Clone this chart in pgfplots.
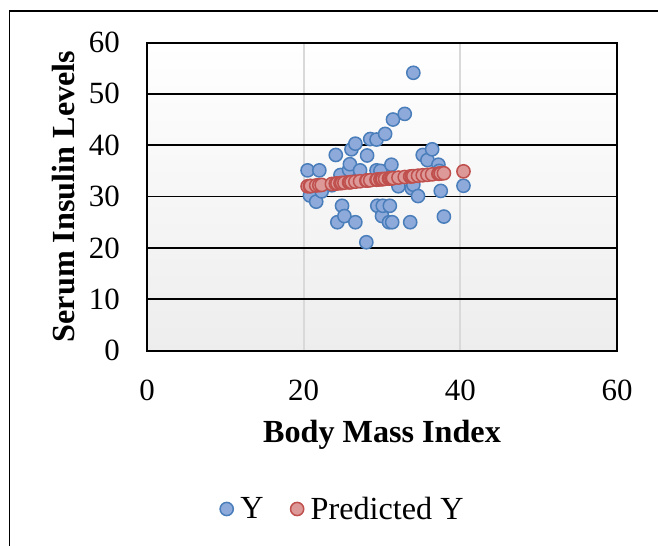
\documentclass[border=0pt]{standalone}
\usepackage{pgfplots}
\pgfplotsset{compat=1.18}
\usepackage{fontspec}
\setmainfont{Liberation Serif}
\definecolor{bluefill}{RGB}{142,170,218}
\definecolor{blueedge}{RGB}{74,126,187}
\definecolor{redfill}{RGB}{220,153,151}
\definecolor{rededge}{RGB}{192,80,77}
\pgfplotsset{mylegimg/.style={legend image code/.code={\path[##1] plot coordinates {(0bp,0bp)};}}}
\begin{document}
\begin{tikzpicture}
\useasboundingbox (0,0) rectangle (658bp,546bp);
\draw[line width=1.4bp, black] (9.3bp,0bp) -- (9.3bp,535bp) -- (658bp,535bp);
\begin{axis}[
  at={(147bp,195.4bp)}, anchor=south west,
  scale only axis, width=470bp, height=308.1bp,
  xmin=0, xmax=60, ymin=0, ymax=60,
  xtick={0,20,40,60}, ytick={0,10,20,30,40,50,60},
  major tick length=0pt,
  grid=major,
  x grid style={draw=black!15, line width=2bp},
  y grid style={draw=black, line width=1.8bp},
  axis line style={line width=2bp},
  axis background/.style={top color=white, bottom color=black!7},
  /pgf/number format/assume math mode=true,
  tick label style={font=\fontsize{31}{36}\selectfont, inner sep=0pt},
  yticklabel style={xshift=-27bp},
  xticklabel style={yshift=-29bp},
  xlabel={Body Mass Index},
  ylabel={Serum Insulin Levels},
  label style={font=\fontsize{32.3}{38}\selectfont\bfseries, inner sep=0pt},
  xlabel style={at={(axis description cs:0.5,-0.2967)}, anchor=base},
  ylabel style={at={(axis description cs:-0.1532,0.5)}, anchor=base},
  legend style={at={(axis description cs:0.1551,-0.5141)}, anchor=west,
    legend columns=-1, draw=none, fill=none, inner xsep=0pt, inner ysep=0pt,
    font=\fontsize{32.3}{38}\selectfont, cells={anchor=west},
    nodes={inner sep=0pt, text depth=0.15em},
    /tikz/every odd column/.append style={column sep=7bp},
    /tikz/every even column/.append style={column sep=27bp}},
]
\addplot[only marks, mark=*, mark size=6.6bp,
  mark options={draw=blueedge, fill=bluefill, line width=1.5bp}, mylegimg]
coordinates {
(20.5,35.1) (20.8,30.2) (20.9,32.0) (21.6,29.0) (22.0,35.1) (22.3,31.0)
(23.6,32.2) (24.1,38.1) (24.3,25.0) (24.7,34.2) (24.9,28.2) (25.2,26.2)
(25.8,35.2) (25.9,36.3) (26.1,39.2) (26.6,40.3) (26.6,25.0) (27.2,35.1)
(28.0,21.1) (28.1,38.0) (28.5,41.2) (29.3,41.1) (29.3,35.1) (29.4,28.2)
(29.8,35.0) (30.0,26.2) (30.1,28.2) (30.4,42.2) (30.9,25.0) (31.0,28.2)
(31.2,36.2) (31.3,25.0) (31.4,45.0) (32.1,32.0) (32.9,46.1) (33.6,25.0)
(33.8,31.6) (34.0,54.1) (34.0,32.3) (34.6,30.1) (35.2,38.1) (35.8,37.1)
(36.4,39.2) (37.2,36.2) (37.3,35.0) (37.5,31.1) (37.9,26.1) (40.4,32.1)
};
\addlegendentry{Y}
\addplot[only marks, mark=*, mark size=6.6bp,
  mark options={draw=rededge, fill=redfill, line width=1.5bp}, mylegimg]
coordinates {
(20.5,32.00) (20.8,32.04) (20.9,32.06) (21.6,32.16) (22.0,32.22) (22.3,32.26)
(23.6,32.45) (24.1,32.53) (24.3,32.56) (24.7,32.61) (24.9,32.64) (25.2,32.69)
(25.8,32.77) (25.9,32.79) (26.1,32.82) (26.6,32.89) (27.2,32.98) (28.0,33.10)
(28.1,33.11) (28.5,33.17) (29.3,33.28) (29.4,33.30) (29.8,33.36) (30.0,33.39)
(30.1,33.40) (30.4,33.45) (30.9,33.52) (31.0,33.53) (31.2,33.56) (31.3,33.57)
(31.4,33.59) (32.1,33.69) (32.9,33.81) (33.6,33.91) (33.8,33.94) (34.0,33.97)
(34.6,34.06) (35.2,34.15) (35.8,34.23) (36.4,34.32) (37.2,34.44) (37.3,34.45)
(37.5,34.48) (37.9,34.54) (40.4,34.91)
};
\addlegendentry{Predicted Y}
\end{axis}
\end{tikzpicture}
\end{document}
